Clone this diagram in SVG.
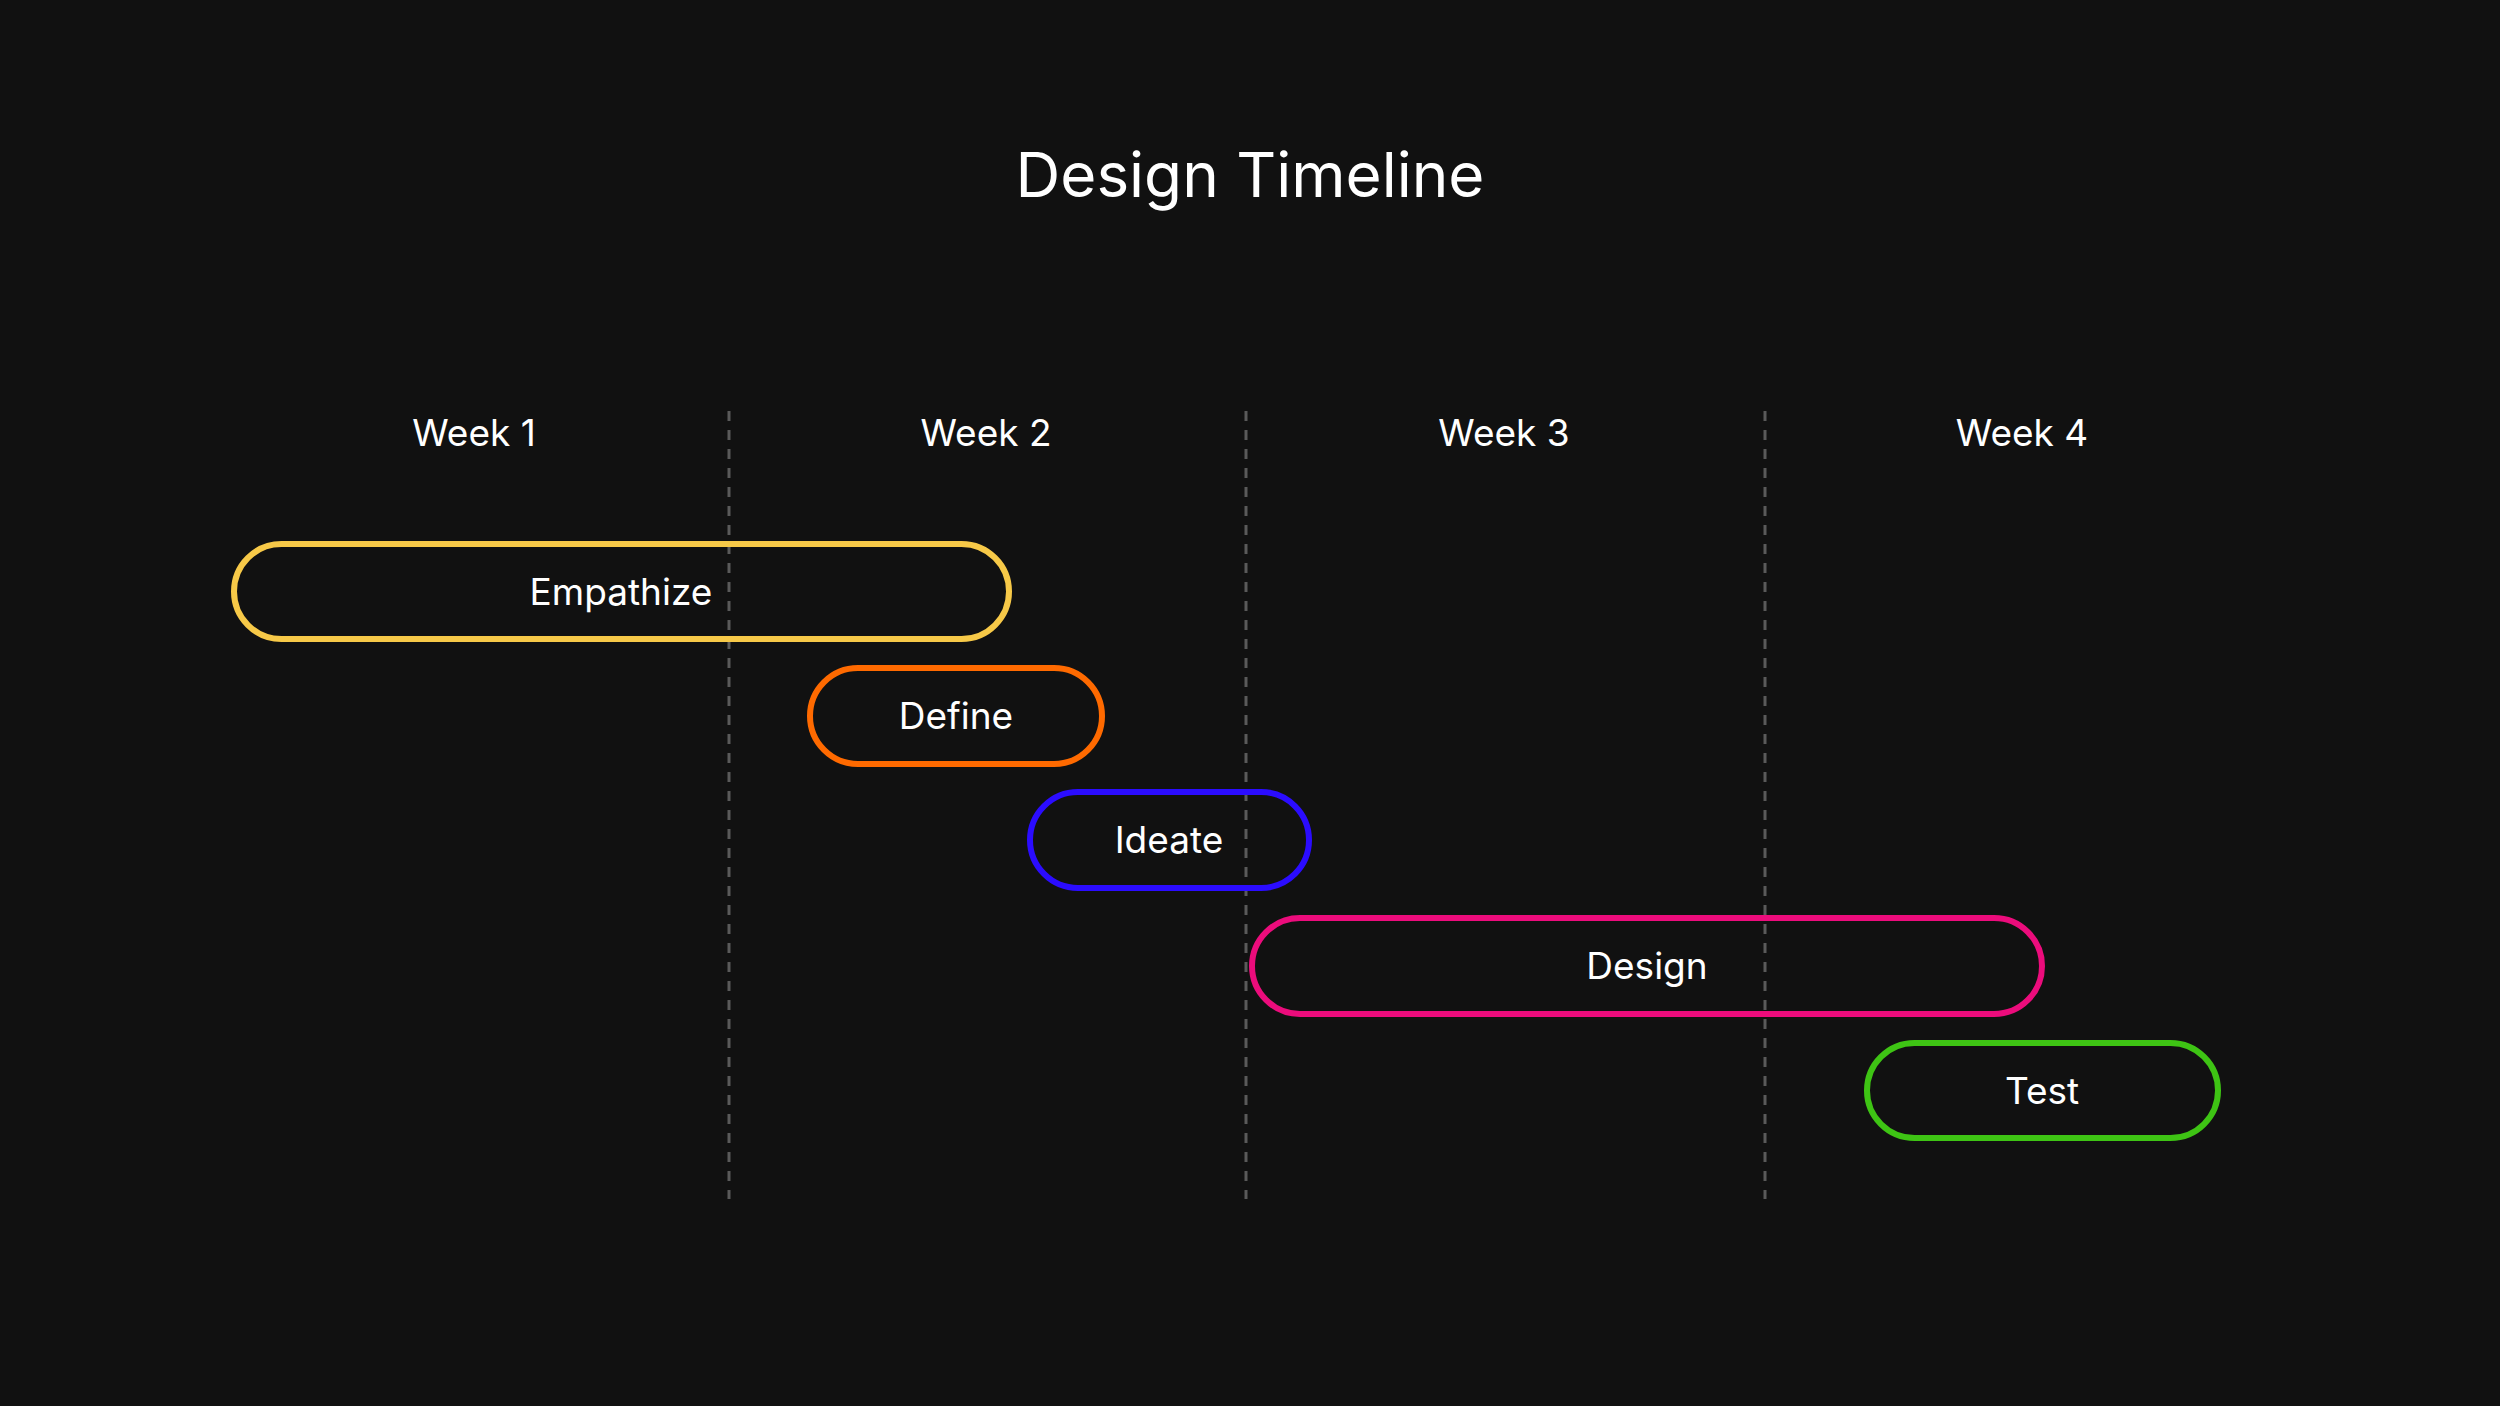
<svg xmlns="http://www.w3.org/2000/svg" width="2500" height="1406" viewBox="0 0 2500 1406">
<style>
text{font-family:Inter,"Liberation Sans",sans-serif;fill:#ffffff;text-anchor:middle}
.t{font-size:62px}
.w{font-size:37px}
.l{font-size:37px}
.bar{fill:none;stroke-width:6}
.grid{stroke:#5a5a5a;stroke-width:3;stroke-dasharray:10 9}
</style>
<rect width="2500" height="1406" fill="#111111"/>
<text class="t" x="1250" y="197">Design Timeline</text>
<g id="weeks">
<text class="w" x="474" y="446">Week 1</text>
<text class="w" x="986" y="446">Week 2</text>
<text class="w" x="1504" y="446">Week 3</text>
<text class="w" x="2022" y="446">Week 4</text>
</g>
<g id="connectors">
<line class="grid" x1="729" y1="411" x2="729" y2="1199"/>
<line class="grid" x1="1246" y1="411" x2="1246" y2="1199"/>
<line class="grid" x1="1765" y1="411" x2="1765" y2="1199"/>
</g>
<g id="empathize"><rect class="bar" x="234" y="544" width="775" height="95" rx="47.5" stroke="#f7c948"/><text class="l" x="621" y="605">Empathize</text></g>
<g id="define"><rect class="bar" x="810" y="668" width="292" height="96" rx="48" stroke="#ff6a00"/><text class="l" x="956" y="729">Define</text></g>
<g id="ideate"><rect class="bar" x="1030" y="792" width="279" height="96" rx="48" stroke="#2b0cff"/><text class="l" x="1169" y="853">Ideate</text></g>
<g id="design"><rect class="bar" x="1252" y="918" width="790" height="96" rx="48" stroke="#ec0c7c"/><text class="l" x="1647" y="979">Design</text></g>
<g id="test"><rect class="bar" x="1867" y="1043" width="351" height="95" rx="47.5" stroke="#3ec414"/><text class="l" x="2042" y="1104">Test</text></g>
</svg>
